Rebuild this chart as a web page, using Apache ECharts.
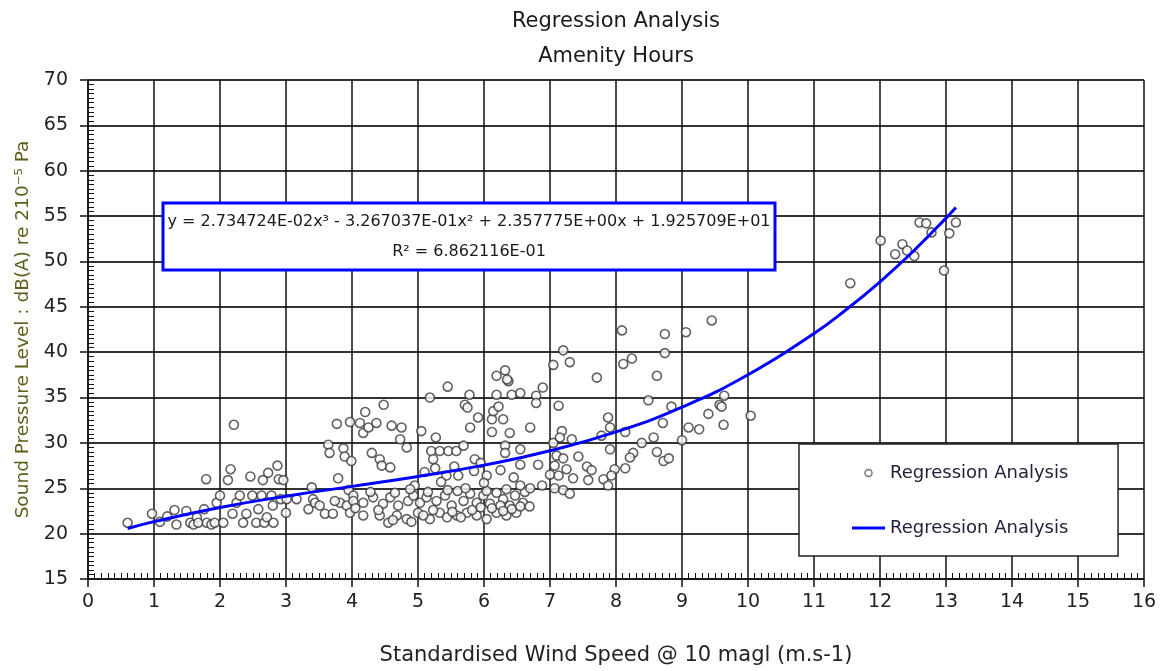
<!DOCTYPE html>
<html>
<head>
<meta charset="utf-8">
<script src="https://cdn.jsdelivr.net/npm/echarts@6/dist/echarts.min.js"></script>
<style>
  html, body { margin: 0; padding: 0; background: #fff; }
  #chart { width: 1168px; height: 671px; }
</style>
</head>
<body>
<div id="chart"></div>
<script>
// ---- Data ----
const chartTitle = 'Regression Analysis';
const chartSubtitle = 'Amenity Hours';
const xAxisTitle = 'Standardised Wind Speed @ 10 magl (m.s-1)';
const yAxisTitle = 'Sound Pressure Level : dB(A) re 210\u207B\u2075 Pa';
const equationLine1 = 'y = 2.734724E-02x\u00B3 - 3.267037E-01x\u00B2 + 2.357775E+00x + 1.925709E+01';
const equationLine2 = 'R\u00B2 = 6.862116E-01';
const scatterName = 'Regression Analysis';
const fitName = 'Regression Analysis ';

// observed points [wind speed, sound level]
const observedPoints = [
  [0.60,21.2],[0.97,22.2],[1.09,21.3],[1.20,21.9],[1.31,22.6],[1.34,21.0],[1.49,22.5],[1.55,21.2],
  [1.60,21.0],[1.65,21.8],[1.67,21.2],[1.76,22.7],[1.79,26.0],[1.80,21.2],[1.87,21.0],[1.92,21.2],
  [1.95,23.4],[2.00,24.2],
  [2.05,21.2],[2.12,25.9],[2.16,27.1],[2.21,32.0],[2.19,22.2],[2.25,23.4],[2.30,24.2],[2.35,21.2],
  [2.40,22.2],[2.46,26.3],[2.49,24.2],[2.55,21.2],[2.58,22.7],[2.63,24.2],[2.65,25.9],[2.67,21.2],
  [2.71,21.8],[2.73,26.7],[2.78,24.2],[2.80,23.1],[2.81,21.2],[2.87,27.5],[2.89,26.0],[2.92,23.8],
  [2.96,25.9],[3.00,22.3],[3.01,23.8],
  [3.16,23.8],[3.34,22.7],[3.39,25.1],[3.41,23.8],[3.44,23.4],[3.51,23.1],[3.59,22.2],[3.64,29.8],
  [3.66,28.9],[3.71,22.2],[3.77,32.1],[3.79,26.1],[3.82,23.4],[3.87,29.4],[3.89,28.5],[3.92,23.1],
  [3.97,32.3],[3.99,28.0],[3.74,23.6],[3.97,22.3],[3.95,24.8],[4.02,24.2],
  [4.12,32.2],[4.20,33.4],[4.17,31.1],[4.25,31.7],[4.37,32.2],[4.30,28.9],[4.42,28.2],[4.45,27.5],
  [4.48,34.2],[4.58,27.3],[4.60,31.9],[4.75,31.7],[4.73,30.4],[4.83,29.5],[4.95,25.3],[5.05,31.3],
  [4.02,23.6],[4.17,23.4],[4.32,24.0],[4.47,23.3],[4.58,24.0],[4.70,23.1],[4.85,23.6],[4.93,24.2],
  [4.17,22.0],[4.42,22.0],[4.55,21.2],[4.68,22.0],[4.83,21.6],[5.00,22.3],[4.62,21.5],[4.90,21.3],
  [4.40,22.6],[4.05,22.8],[4.28,24.6],[4.65,24.5],[4.88,24.9],
  [5.03,23.4],[5.13,24.0],[5.28,23.6],[5.41,24.2],[5.51,23.1],[5.59,22.0],[5.69,23.6],[5.79,24.4],
  [5.89,23.4],[5.99,24.2],[6.09,23.3],[6.19,24.5],[6.29,23.8],[6.39,23.1],[6.47,24.2],[6.59,23.4],
  [5.18,21.6],[5.33,22.3],[5.44,21.8],[5.74,22.3],[5.89,22.0],[6.04,21.6],[6.19,22.3],[6.34,22.0],
  [6.49,22.3],[6.04,24.7],[6.34,24.9],
  [5.08,22.0],[5.23,22.6],[5.52,22.4],[5.65,21.8],[5.82,22.6],[5.95,22.9],[6.12,22.8],[6.25,23.1],
  [6.42,22.7],[6.55,23.0],[6.62,24.6],[5.15,24.6],[5.45,24.8],[5.60,24.7],[5.72,25.0],[6.29,22.5],
  [6.69,23.0],
  [5.20,29.1],[5.23,28.2],[5.33,29.1],[5.46,29.1],[5.58,29.1],[5.69,29.7],[5.26,27.2],[5.86,28.2],
  [6.32,29.7],[6.32,28.9],[6.55,29.3],[6.55,27.6],[5.43,26.4],[5.61,26.4],[6.04,26.4],[6.55,25.3],
  [5.27,30.6],[5.79,31.7],[5.91,32.8],[6.12,32.6],[6.14,33.5],[6.29,32.6],[6.12,31.2],[6.39,31.1],
  [5.18,35.0],[5.45,36.2],[6.37,36.8],[5.78,35.3],[6.19,35.3],[6.42,35.3],[6.55,35.5],[5.71,34.2],
  [5.75,33.9],[6.22,34.0],[6.19,37.4],[6.32,38.0],[6.35,37.0],[6.79,35.2],[6.89,36.1],[6.79,34.4],
  [7.13,34.1],[6.70,31.7],[7.05,30.0],[6.82,27.6],[6.88,25.3],[6.70,25.0],
  [5.55,27.4],[5.85,26.9],[5.95,27.8],[6.00,25.6],[5.35,25.7],[5.10,26.8],[6.25,27.0],[6.45,26.2],
  [7.05,38.6],[7.20,40.2],[7.30,38.9],[7.71,37.2],[8.62,37.4],[8.49,34.7],[8.84,34.0],
  [9.40,33.2],[9.57,34.2],[7.88,32.8],[7.91,31.7],[8.71,32.2],[9.10,31.7],[9.26,31.5],
  [7.18,31.3],[7.15,30.6],[7.33,30.4],[7.78,30.8],[8.14,31.2],[8.39,30.0],[8.57,30.6],[9.00,30.3],
  [7.91,29.3],[7.10,28.6],[7.20,28.3],[7.43,28.5],[8.26,28.9],[8.21,28.4],[8.62,29.0],[8.72,28.0],
  [8.80,28.3],[7.07,27.5],[7.25,27.1],[7.56,27.4],[7.63,27.0],[7.98,27.1],[8.14,27.2],
  [7.00,26.5],[7.13,26.4],[7.35,26.1],[7.58,25.9],[7.81,26.0],[7.93,26.4],[7.88,25.3],
  [7.07,25.0],[7.20,24.8],[7.30,24.4],
  [8.09,42.4],[8.74,42.0],[9.06,42.2],[9.45,43.5],[8.24,39.3],[8.11,38.7],[8.74,39.9],
  [9.64,35.2],[9.60,34.0],[10.04,33.0],[9.63,32.0],
  [11.55,47.6],[12.01,52.3],[12.23,50.8],[12.34,51.9],[12.41,51.2],[12.52,50.6],[12.60,54.3],
  [12.70,54.2],[12.78,53.2],[12.97,49.0],[13.05,53.1],[13.15,54.3]
];

// regression curve
const fitSpeed = [0.6, 1, 2, 3, 4, 5, 6, 7, 8, 9, 10, 11, 11.5, 12, 12.5, 13, 13.15];
const fitLevel = [20.56, 21.32, 22.88, 24.13, 25.21, 26.30, 27.55, 29.13, 31.21, 33.95, 37.51, 42.06, 44.76, 47.76, 51.10, 54.78, 55.95];

const xMin = 0, xMax = 16, xStep = 1;
const yMin = 15, yMax = 70, yStep = 5;

// ---- Chart ----
const FONT = 'DejaVu Sans';
const chart = echarts.init(document.getElementById('chart'), null, { renderer: 'canvas' });

const fitData = fitSpeed.map((x, i) => [x, fitLevel[i]]);

const baseX = { type: 'value', min: xMin, max: xMax, interval: xStep, gridIndex: 0 };
const baseY = { type: 'value', min: yMin, max: yMax, interval: yStep, gridIndex: 0 };

const option = {
  animation: false,
  backgroundColor: '#ffffff',
  grid: { left: 88, right: 24, top: 80, bottom: 91 },
  xAxis: [
    Object.assign({}, baseX, {
      position: 'bottom',
      axisLine: { show: true, onZero: false, lineStyle: { color: '#111', width: 1.5 } },
      axisTick: { show: true, length: 8, lineStyle: { color: '#111', width: 1.5 } },
      axisLabel: { fontSize: 19, fontFamily: FONT, color: '#222', margin: 14 },
      splitLine: { show: true, lineStyle: { color: '#111', width: 1.5 } },
      name: xAxisTitle,
      nameLocation: 'middle',
      nameGap: 66,
      nameTextStyle: { fontSize: 21, fontFamily: FONT, color: '#222' }
    }),
    Object.assign({}, baseX, {
      position: 'bottom',
      axisLine: { show: false },
      axisTick: { show: false, inside: true },
      axisLabel: { show: false },
      splitLine: { show: false },
      minorTick: { show: true, splitNumber: 10, length: 6, lineStyle: { color: '#111', width: 1 } }
    })
  ],
  yAxis: [
    Object.assign({}, baseY, {
      position: 'left',
      axisLine: { show: true, onZero: false, lineStyle: { color: '#111', width: 1.5 } },
      axisTick: { show: true, length: 8, lineStyle: { color: '#111', width: 1.5 } },
      axisLabel: { fontSize: 19, fontFamily: FONT, color: '#222', margin: 20 },
      splitLine: { show: true, lineStyle: { color: '#333', width: 2 } },
      name: yAxisTitle,
      nameLocation: 'middle',
      nameGap: 55,
      nameTextStyle: { fontSize: 18.5, fontFamily: FONT, color: '#5f5f1c' }
    }),
    Object.assign({}, baseY, {
      position: 'left',
      axisLine: { show: false },
      axisTick: { show: false, inside: true },
      axisLabel: { show: false },
      splitLine: { show: false },
      minorTick: { show: true, splitNumber: 10, length: 6, lineStyle: { color: '#111', width: 1 } }
    })
  ],
  legend: {
    orient: 'vertical',
    left: 799,
    top: 444,
    padding: [20, 44, 19, 53],
    itemGap: 37,
    itemWidth: 33,
    itemHeight: 7,
    backgroundColor: '#ffffff',
    borderColor: '#222',
    borderWidth: 1.5,
    borderRadius: 0,
    textStyle: { fontSize: 18, fontFamily: FONT, color: '#22223a' },
    data: [
      { name: scatterName, icon: 'circle', itemStyle: { color: '#ffffff', borderColor: '#555', borderWidth: 1.5 } },
      { name: fitName, icon: 'path://M0,0L33,0L33,3L0,3Z', itemStyle: { color: '#0000ff', borderWidth: 0 } }
    ]
  },
  series: [
    {
      name: scatterName,
      type: 'scatter',
      xAxisIndex: 0,
      yAxisIndex: 0,
      data: observedPoints,
      symbol: 'circle',
      symbolSize: 9,
      itemStyle: { color: '#ffffff', borderColor: '#3a3a3a', borderWidth: 1.6 },
      emphasis: { disabled: true },
      z: 3
    },
    {
      name: fitName,
      type: 'line',
      xAxisIndex: 0,
      yAxisIndex: 0,
      data: fitData,
      smooth: true,
      symbol: 'none',
      lineStyle: { color: '#0000ff', width: 3 },
      itemStyle: { color: '#0000ff' },
      z: 4
    }
  ],
  graphic: [
    { type: 'text', x: 616, y: 22, z: 100,
      style: { text: chartTitle, font: '21px "DejaVu Sans"', fill: '#1a1a1a', align: 'center', verticalAlign: 'middle', textAlign: 'center', textVerticalAlign: 'middle' } },
    { type: 'text', x: 616, y: 57, z: 100,
      style: { text: chartSubtitle, font: '21px "DejaVu Sans"', fill: '#1a1a1a', align: 'center', verticalAlign: 'middle', textAlign: 'center', textVerticalAlign: 'middle' } },
    { type: 'rect', z: 100,
      shape: { x: 163, y: 203, width: 612, height: 67 },
      style: { fill: '#ffffff', stroke: '#0000ff', lineWidth: 3 } },
    { type: 'text', x: 469, y: 222, z: 101,
      style: { text: equationLine1, font: '16px "DejaVu Sans"', fill: '#1a1a1a', align: 'center', verticalAlign: 'middle', textAlign: 'center', textVerticalAlign: 'middle' } },
    { type: 'text', x: 469, y: 252, z: 101,
      style: { text: equationLine2, font: '16px "DejaVu Sans"', fill: '#1a1a1a', align: 'center', verticalAlign: 'middle', textAlign: 'center', textVerticalAlign: 'middle' } }
  ]
};

chart.setOption(option);
</script>
</body>
</html>
